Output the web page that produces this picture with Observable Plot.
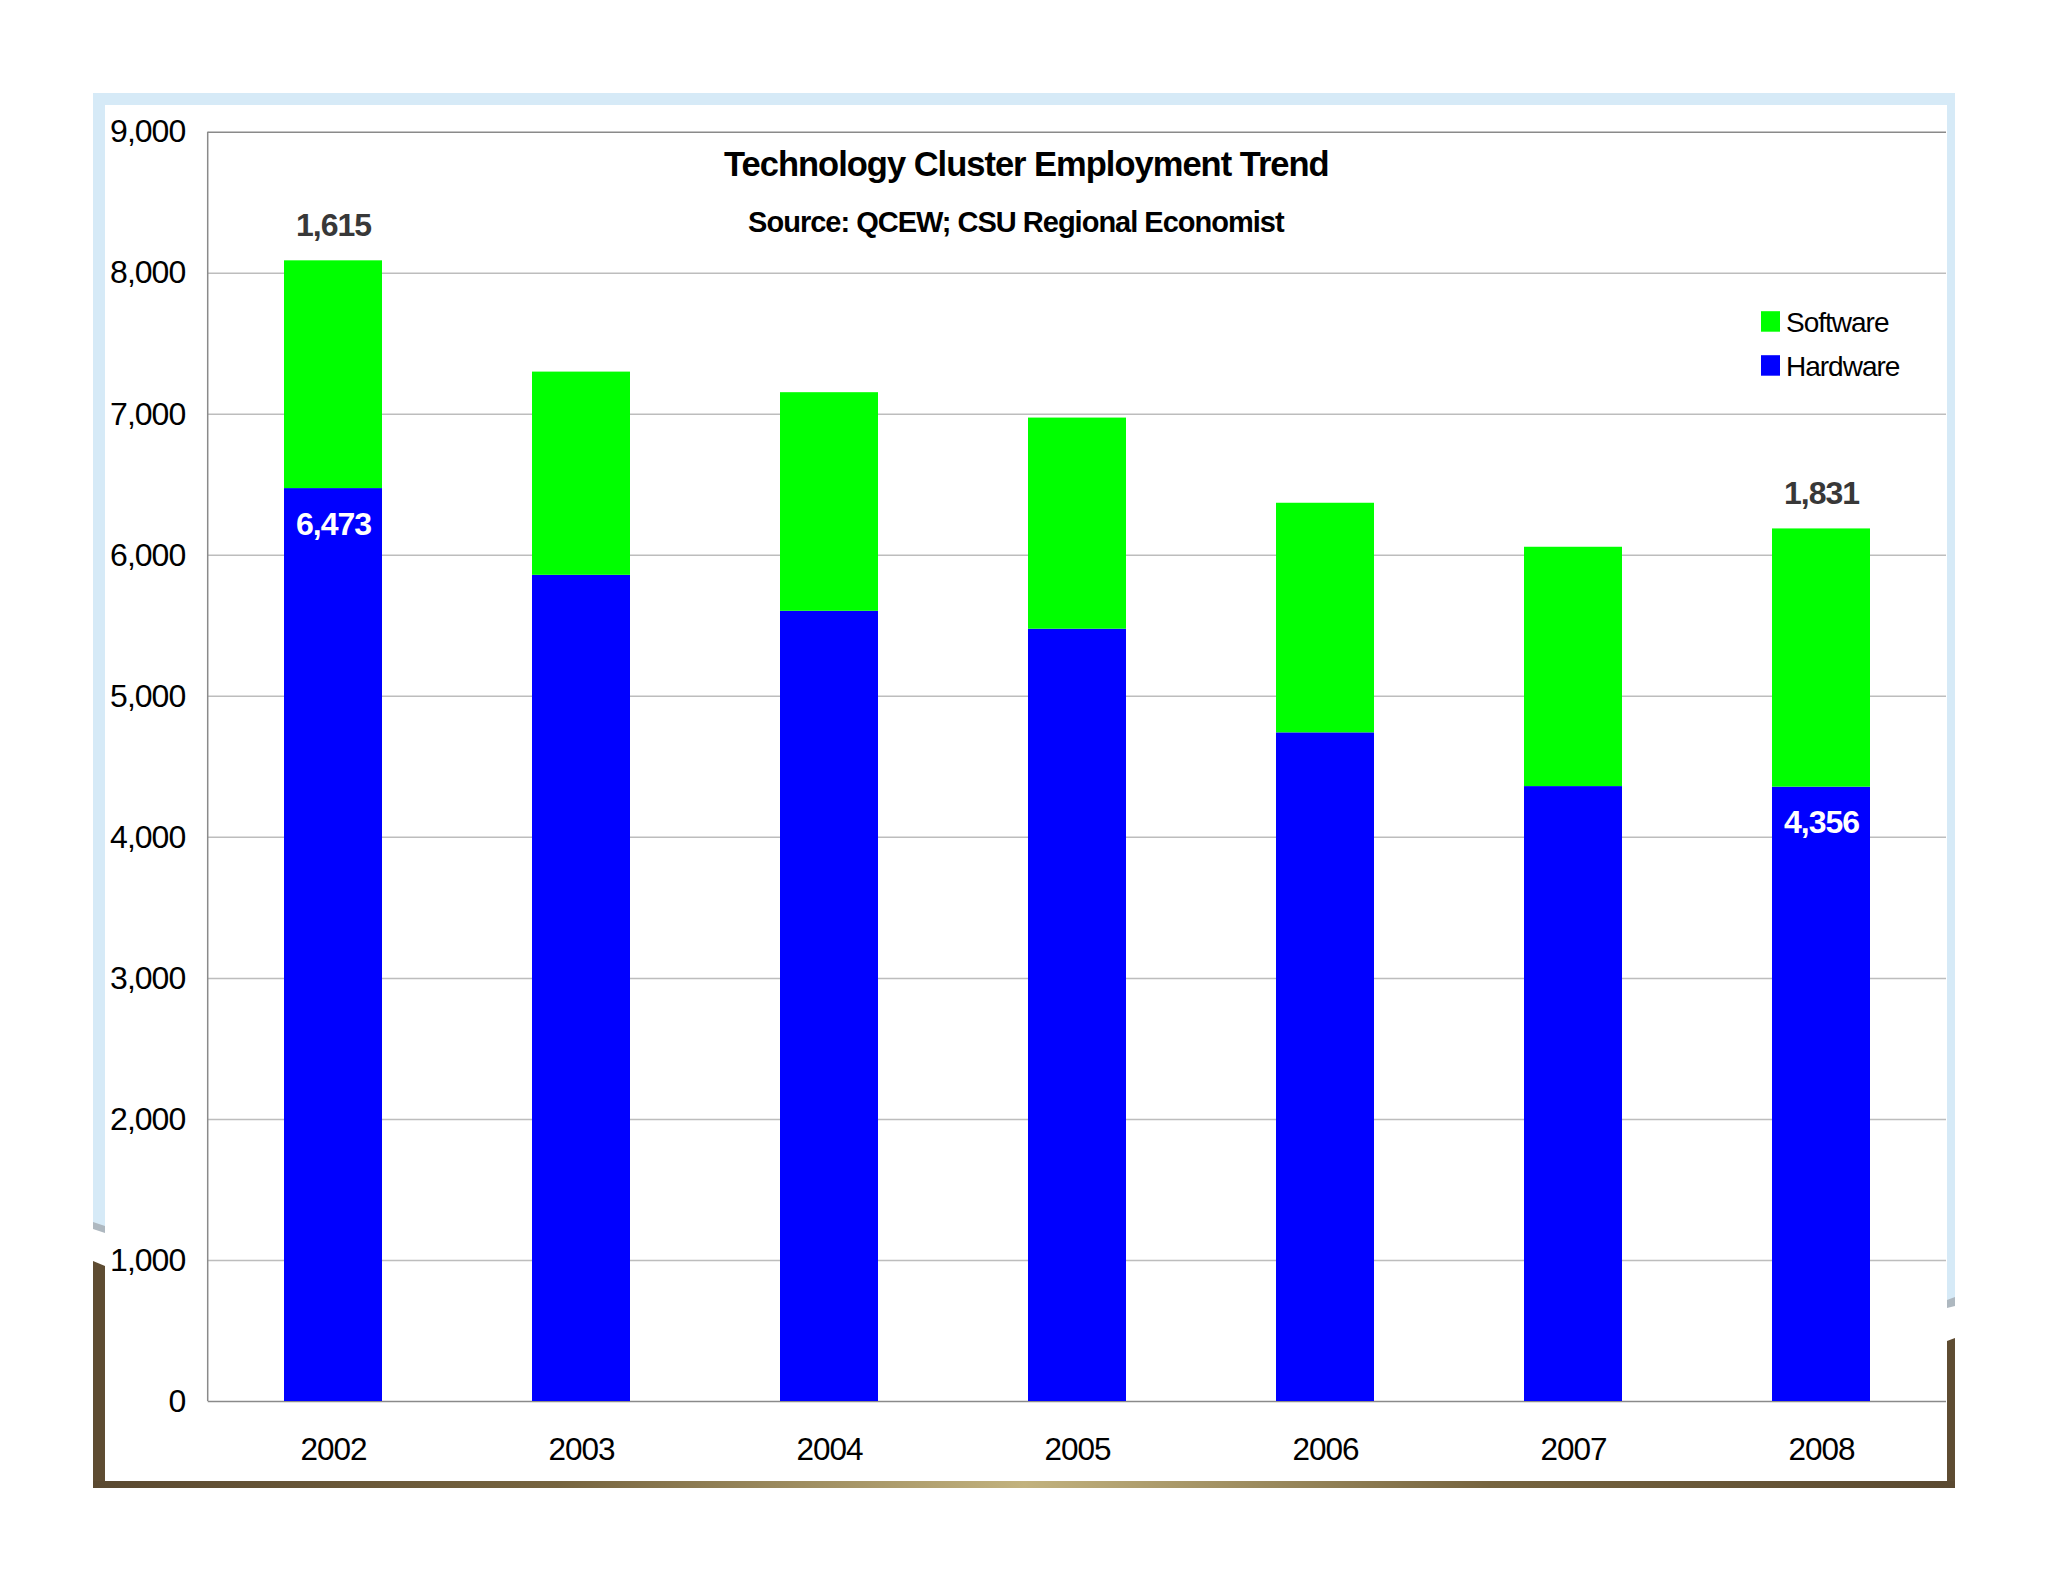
<!DOCTYPE html>
<html>
<head>
<meta charset="utf-8">
<script src="https://cdn.jsdelivr.net/npm/d3@7"></script>
<script src="https://cdn.jsdelivr.net/npm/@observablehq/plot@0.6"></script>
<style>
  html, body { margin: 0; padding: 0; background: #ffffff; overflow: hidden; }
  #chart { width: 2048px; height: 1582px; }
</style>
</head>
<body>
<div id="chart"></div>
<script>
// ---- data ----
const years = ["2002", "2003", "2004", "2005", "2006", "2007", "2008"];
const hardware = [6473, 5858, 5603, 5476, 4741, 4360, 4356];
const software = [1615, 1441, 1550, 1497, 1628, 1697, 1831];
const seriesNames = ["Hardware", "Software"];
const seriesColors = ["#0000ff", "#00ff00"];
const legendOrder = ["Software", "Hardware"];
const yTicks = [0, 1000, 2000, 3000, 4000, 5000, 6000, 7000, 8000, 9000];
const labeledYears = ["2002", "2008"];
const titleText = "Technology Cluster Employment Trend";
const subtitleText = "Source: QCEW; CSU Regional Economist";

const fmt = d3.format(",d");

const rows = [];
years.forEach((y, i) => rows.push({year: y, series: "Hardware", value: hardware[i]}));
years.forEach((y, i) => rows.push({year: y, series: "Software", value: software[i]}));

const hwLabels = years.map((y, i) => ({year: y, value: hardware[i]})).filter(d => labeledYears.includes(d.year));
const swLabels = years.map((y, i) => ({year: y, value: software[i], total: hardware[i] + software[i]})).filter(d => labeledYears.includes(d.year));

const FONT = "'Liberation Sans', Arial, Helvetica, sans-serif";

// page frame decoration (blue top, brown bottom "curl" frame)
function frameDeco() {
  const g = d3.create("svg:g");
  const defs = g.append("defs");
  const grad = defs.append("linearGradient").attr("id", "brownGrad").attr("x1", "0").attr("x2", "1").attr("y1", "0").attr("y2", "0");
  [[0, "#5a4930"], [0.25, "#76643f"], [0.5, "#c2b27e"], [0.75, "#76643f"], [1, "#5a4930"]]
    .forEach(([o, c]) => grad.append("stop").attr("offset", o).attr("stop-color", c));
  const blue = "#d6eaf7";
  g.append("rect").attr("x", 93).attr("y", 93).attr("width", 1862).attr("height", 12).attr("fill", blue);
  g.append("rect").attr("x", 93).attr("y", 93).attr("width", 12).attr("height", 1135).attr("fill", blue);
  g.append("rect").attr("x", 1947).attr("y", 93).attr("width", 8).attr("height", 1212).attr("fill", blue);
  g.append("polygon").attr("points", "93,1222 105,1226 105,1233 93,1229").attr("fill", "#aeb8c0");
  g.append("polygon").attr("points", "1947,1300 1955,1297 1955,1306 1947,1308").attr("fill", "#aeb8c0");
  g.append("polygon").attr("points", "93,1261 105,1266 105,1488 93,1488").attr("fill", "#5e4c32");
  g.append("polygon").attr("points", "1947,1341 1955,1338 1955,1488 1947,1488").attr("fill", "#5e4c32");
  g.append("rect").attr("x", 93).attr("y", 1481).attr("width", 1862).attr("height", 7).attr("fill", "url(#brownGrad)");
  return g.node();
}

function leftAxisLine(index, scales, values, dimensions) {
  const dims = [...arguments].find(a => a && typeof a === "object" && "marginLeft" in a && "width" in a);
  const g = d3.create("svg:g");
  g.append("line")
    .attr("x1", dims.marginLeft).attr("x2", dims.marginLeft)
    .attr("y1", dims.marginTop).attr("y2", dims.height - dims.marginBottom)
    .attr("stroke", "#8a8a8a").attr("stroke-width", 1.5);
  return g.node();
}

function legendMark(index, scales, values, dimensions) {
  const dims = [...arguments].find(a => a && typeof a === "object" && "marginLeft" in a && "width" in a);
  const sc = arguments[1];
  const color = sc && typeof sc.color === "function" ? sc.color : (s) => seriesColors[seriesNames.indexOf(s)];
  const x0 = dims.width - dims.marginRight - 185;
  const g = d3.create("svg:g").attr("text-anchor", "start");
  legendOrder.forEach((s, i) => {
    const base = dims.marginTop + 200 + i * 44;
    g.append("rect").attr("x", x0).attr("y", base - 20.5).attr("width", 19).attr("height", 20.5).attr("fill", color(s));
    g.append("text").attr("x", x0 + 25).attr("y", base).attr("text-anchor", "start")
      .attr("font-size", 28).attr("fill", "#000").text(s);
  });
  return g.node();
}

const chart = Plot.plot({
  width: 2048,
  height: 1582,
  marginTop: 131.7,
  marginBottom: 181,
  marginLeft: 207.7,
  marginRight: 102,
  style: {fontFamily: FONT, fontSize: "32px", letterSpacing: "-1px", color: "#000", background: "transparent", overflow: "visible"},
  x: {type: "band", domain: years, paddingInner: 0.605, paddingOuter: 0.3025, axis: null},
  y: {domain: [0, 9000], axis: null},
  color: {domain: seriesNames, range: seriesColors},
  marks: [
    frameDeco,
    Plot.ruleY(yTicks.filter(t => t !== 0 && t !== 9000), {stroke: "#bdbdbd", strokeWidth: 1.5}),
    Plot.ruleY([0, 9000], {stroke: "#8a8a8a", strokeWidth: 1.5}),
    leftAxisLine,
    Plot.barY(rows, {x: "year", y: "value", fill: "series", order: seriesNames}),
    Plot.axisY({ticks: yTicks, tickFormat: d => fmt(d), tickSize: 0, tickPadding: 23, label: null, fontSize: 32}),
    Plot.axisX({tickSize: 0, tickPadding: 36, label: null, fontSize: 31.5}),
    Plot.text(swLabels, {x: "year", y: "total", text: d => fmt(d.value), dy: -25, lineAnchor: "bottom", fill: "#383838", fontWeight: "bold", fontSize: 32}),
    Plot.text(hwLabels, {x: "year", y: "value", text: d => fmt(d.value), dy: 46, lineAnchor: "bottom", fill: "#ffffff", fontWeight: "bold", fontSize: 32}),
    Plot.text([titleText], {text: d => d, frameAnchor: "top", dx: -51, dy: 43.3, lineAnchor: "bottom", fontWeight: "bold", fontSize: 34.5, fill: "#000"}),
    Plot.text([subtitleText], {text: d => d, frameAnchor: "top", dx: -61.5, dy: 99.8, lineAnchor: "bottom", fontWeight: "bold", fontSize: 29, fill: "#000"}),
    legendMark
  ]
});

document.getElementById("chart").appendChild(chart);
</script>
</body>
</html>
